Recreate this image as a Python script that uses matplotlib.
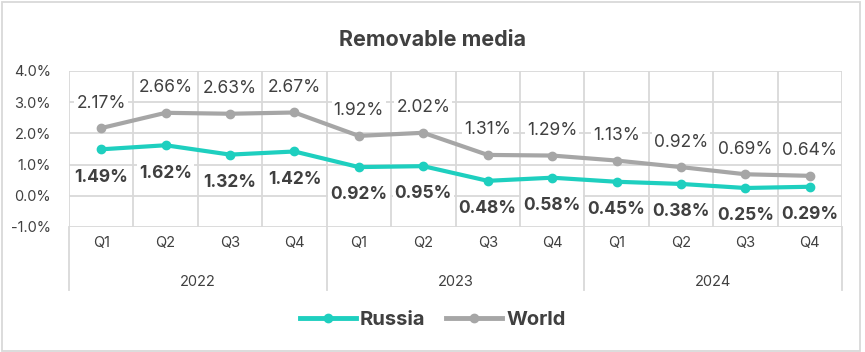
import matplotlib
matplotlib.use("Agg")
import matplotlib.pyplot as plt
from matplotlib.patches import Rectangle
from matplotlib.lines import Line2D

plt.rcParams['font.family'] = ['Inter', 'DejaVu Sans']

quarters = ["Q1", "Q2", "Q3", "Q4"] * 3
years = ["2022", "2023", "2024"]
russia = [1.49, 1.62, 1.32, 1.42, 0.92, 0.95, 0.48, 0.58, 0.45, 0.38, 0.25, 0.29]
world = [2.17, 2.66, 2.63, 2.67, 1.92, 2.02, 1.31, 1.29, 1.13, 0.92, 0.69, 0.64]
yticks = [-1.0, 0.0, 1.0, 2.0, 3.0, 4.0]

teal = "#1ECFBF"
gray = "#A6A6A6"
txt = "#404040"
grid = "#D9D9D9"

fig = plt.figure(figsize=(8.65, 3.52), dpi=100)
ax = fig.add_axes([69/865, 1-227/352, (842-69)/865, (227-71)/352])

x = list(range(len(quarters)))
ax.set_xlim(-0.5, len(quarters)-0.5)
ax.set_ylim(-1.0, 4.0)
ax.set_yticks(yticks)
ax.set_yticklabels([f"{v:.1f}%" for v in yticks], color=txt, fontsize=10.5)
ax.tick_params(axis='y', length=0, pad=13)
ax.set_xticks([])
for s in ax.spines.values():
    s.set_visible(False)
for v in yticks:
    ax.axhline(v, color=grid, lw=1.3, zorder=0)
for b in [i - 0.5 for i in range(len(quarters)+1)]:
    ax.axvline(b, color=grid, lw=1.3, zorder=0)

ax.plot(x, world, color=gray, lw=3, marker='o', ms=6, zorder=3, label="World")
ax.plot(x, russia, color=teal, lw=3, marker='o', ms=6, zorder=3, label="Russia")

bbox = dict(boxstyle="square,pad=0.12", fc="white", ec="none")
for xi, v in zip(x, world):
    ax.annotate(f"{v:.2f}%", (xi, v), xytext=(0, 18), textcoords="offset points",
                ha='center', va='center', fontsize=12.5, color=txt, bbox=bbox, zorder=4)
for xi, v in zip(x, russia):
    ax.annotate(f"{v:.2f}%", (xi, v), xytext=(0, -20), textcoords="offset points",
                ha='center', va='center', fontsize=12.5, color=txt, fontweight='bold',
                bbox=bbox, zorder=4)

# category axis
trans = ax.get_xaxis_transform()
for xi, q in zip(x, quarters):
    ax.text(xi, -0.105, q, transform=trans, ha='center', va='center', fontsize=10.5, color=txt)
for i, yr in enumerate(years):
    ax.text(i*4 + 1.5, -0.355, yr, transform=trans, ha='center', va='center', fontsize=10.5, color=txt)
for b in [-0.5, 3.5, 7.5, 11.5]:
    ax.add_line(Line2D([b, b], [0, -0.405], transform=trans, color=grid, lw=1.3, clip_on=False))

fig.text(0.5, 1-40/352, "Removable media", ha='center', va='center', fontsize=15.5,
         fontweight='bold', color=txt)

handles = [Line2D([], [], color=teal, lw=3.5, marker='o', ms=6),
           Line2D([], [], color=gray, lw=3.5, marker='o', ms=6)]
leg = fig.legend(handles, ["Russia", "World"], loc='center', bbox_to_anchor=(0.5, 1-320/352),
                 ncol=2, frameon=False, handlelength=2.8, columnspacing=1.0, handletextpad=0.2,
                 prop={'weight': 'bold', 'size': 14.5})
for t in leg.get_texts():
    t.set_color(txt)

fig.patches.append(Rectangle((2/865, 1/352), 858/865, 349/352, transform=fig.transFigure,
                             fill=False, ec=grid, lw=1.3))
fig.savefig("out.png", dpi=100)
